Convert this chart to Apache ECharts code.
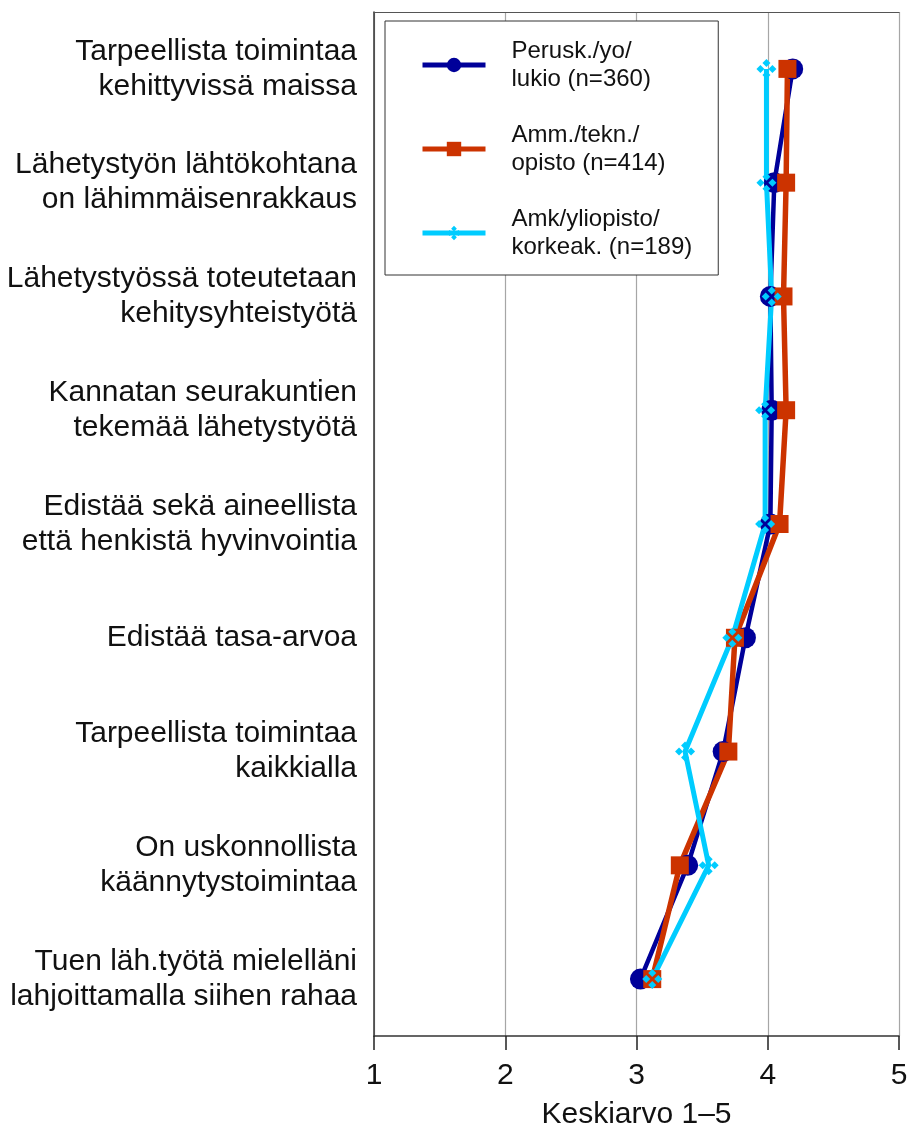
<!DOCTYPE html>
<html>
<head>
<meta charset="utf-8">
<script src="https://cdn.jsdelivr.net/npm/echarts@6/dist/echarts.min.js"></script>
<style>
  html, body { margin: 0; padding: 0; background: #fff; }
  #chart { width: 908px; height: 1126px; }
</style>
</head>
<body>
<div id="chart"></div>
<script>
const categories = [
  "Tarpeellista toimintaa\nkehittyvissä maissa",
  "Lähetystyön lähtökohtana\non lähimmäisenrakkaus",
  "Lähetystyössä toteutetaan\nkehitysyhteistyötä",
  "Kannatan seurakuntien\ntekemää lähetystyötä",
  "Edistää sekä aineellista\nettä henkistä hyvinvointia",
  "Edistää tasa-arvoa",
  "Tarpeellista toimintaa\nkaikkialla",
  "On uskonnollista\nkäännytystoimintaa",
  "Tuen läh.työtä mielelläni\nlahjoittamalla siihen rahaa",
];
const seriesNames = [
  "Perusk./yo/\nlukio (n=360)",
  "Amm./tekn./\nopisto (n=414)",
  "Amk/yliopisto/\nkorkeak. (n=189)",
];
const perusValues = [4.19, 4.05, 4.02, 4.03, 4.02, 3.83, 3.66, 3.39, 3.03];
const ammValues = [4.15, 4.14, 4.12, 4.14, 4.09, 3.75, 3.70, 3.33, 3.12];
const amkValues = [3.99, 3.99, 4.03, 3.98, 3.98, 3.73, 3.37, 3.55, 3.12];
const xTicks = [1, 2, 3, 4, 5];

const FONT = "'Liberation Sans', Arial, Helvetica, sans-serif";
// four small diamonds arranged in a cross, white gap in the middle
const dotDiamond =
  "path://M10 0L14 4L10 8L6 4Z M16 6L20 10L16 14L12 10Z M10 12L14 16L10 20L6 16Z M4 6L8 10L4 14L0 10Z";

function toPairs(values) {
  return values.map((v, i) => [v, categories[i]]);
}

function lineSeries(name, values, color, width, symbol, size) {
  return {
    name,
    type: "line",
    data: toPairs(values),
    symbol,
    symbolSize: size,
    showAllSymbol: true,
    lineStyle: { color, width },
    itemStyle: { color },
    emphasis: { disabled: true },
    animation: false,
  };
}

const chart = echarts.init(document.getElementById("chart"), null, { renderer: "canvas" });
chart.setOption({
  backgroundColor: "#fff",
  animation: false,
  grid: { left: 374, right: 9, top: 12, bottom: 90, outerBoundsMode: "none", containLabel: false },
  legend: {
    orient: "vertical",
    left: 385,
    top: 21,
    data: seriesNames,
    backgroundColor: "#fff",
    borderColor: "#333",
    borderWidth: 1,
    padding: [16, 26, 14, 35],
    itemWidth: 63,
    itemHeight: 18,
    itemGap: 28,
    lineStyle: { width: 5 },
    textStyle: {
      fontFamily: FONT,
      fontSize: 24,
      lineHeight: 28,
      color: "#111",
      padding: [0, 0, 0, 21],
    },
  },
  xAxis: [
    {
      type: "value",
      min: 1,
      max: 5,
      interval: 1,
      name: "Keskiarvo 1–5",
      nameLocation: "middle",
      nameGap: 64,
      nameTextStyle: { fontFamily: FONT, fontSize: 30, color: "#111" },
      axisLine: { show: true, lineStyle: { color: "#333", width: 1.5 } },
      axisTick: { show: true, length: 14, lineStyle: { color: "#222", width: 1.5 } },
      axisLabel: {
        fontFamily: FONT,
        fontSize: 30,
        color: "#111",
        margin: 25,
        formatter: (v) => (xTicks.includes(v) ? String(v) : ""),
      },
      splitLine: { show: true, lineStyle: { color: "#a6a6a6", width: 1.2 } },
    },
    {
      type: "value",
      position: "top",
      min: 1,
      max: 5,
      interval: 1,
      axisLine: { show: true, lineStyle: { color: "#555", width: 1.2 } },
      axisTick: { show: false },
      axisLabel: { show: false },
      splitLine: { show: false },
    },
  ],
  yAxis: {
    type: "category",
    data: categories,
    inverse: true,
    boundaryGap: true,
    axisLine: { show: true, lineStyle: { color: "#333", width: 1.5 } },
    axisTick: { show: false },
    splitLine: { show: false },
    axisLabel: {
      fontFamily: FONT,
      fontSize: 30,
      lineHeight: 35,
      color: "#111",
      margin: 17,
      align: "right",
    },
  },
  series: [
    lineSeries(seriesNames[0], perusValues, "#000099", 4.5, "circle", 21),
    lineSeries(seriesNames[1], ammValues, "#cc3300", 5.5, "rect", 18),
    lineSeries(seriesNames[2], amkValues, "#00ccff", 5, dotDiamond, 20),
  ],
});
</script>
</body>
</html>
